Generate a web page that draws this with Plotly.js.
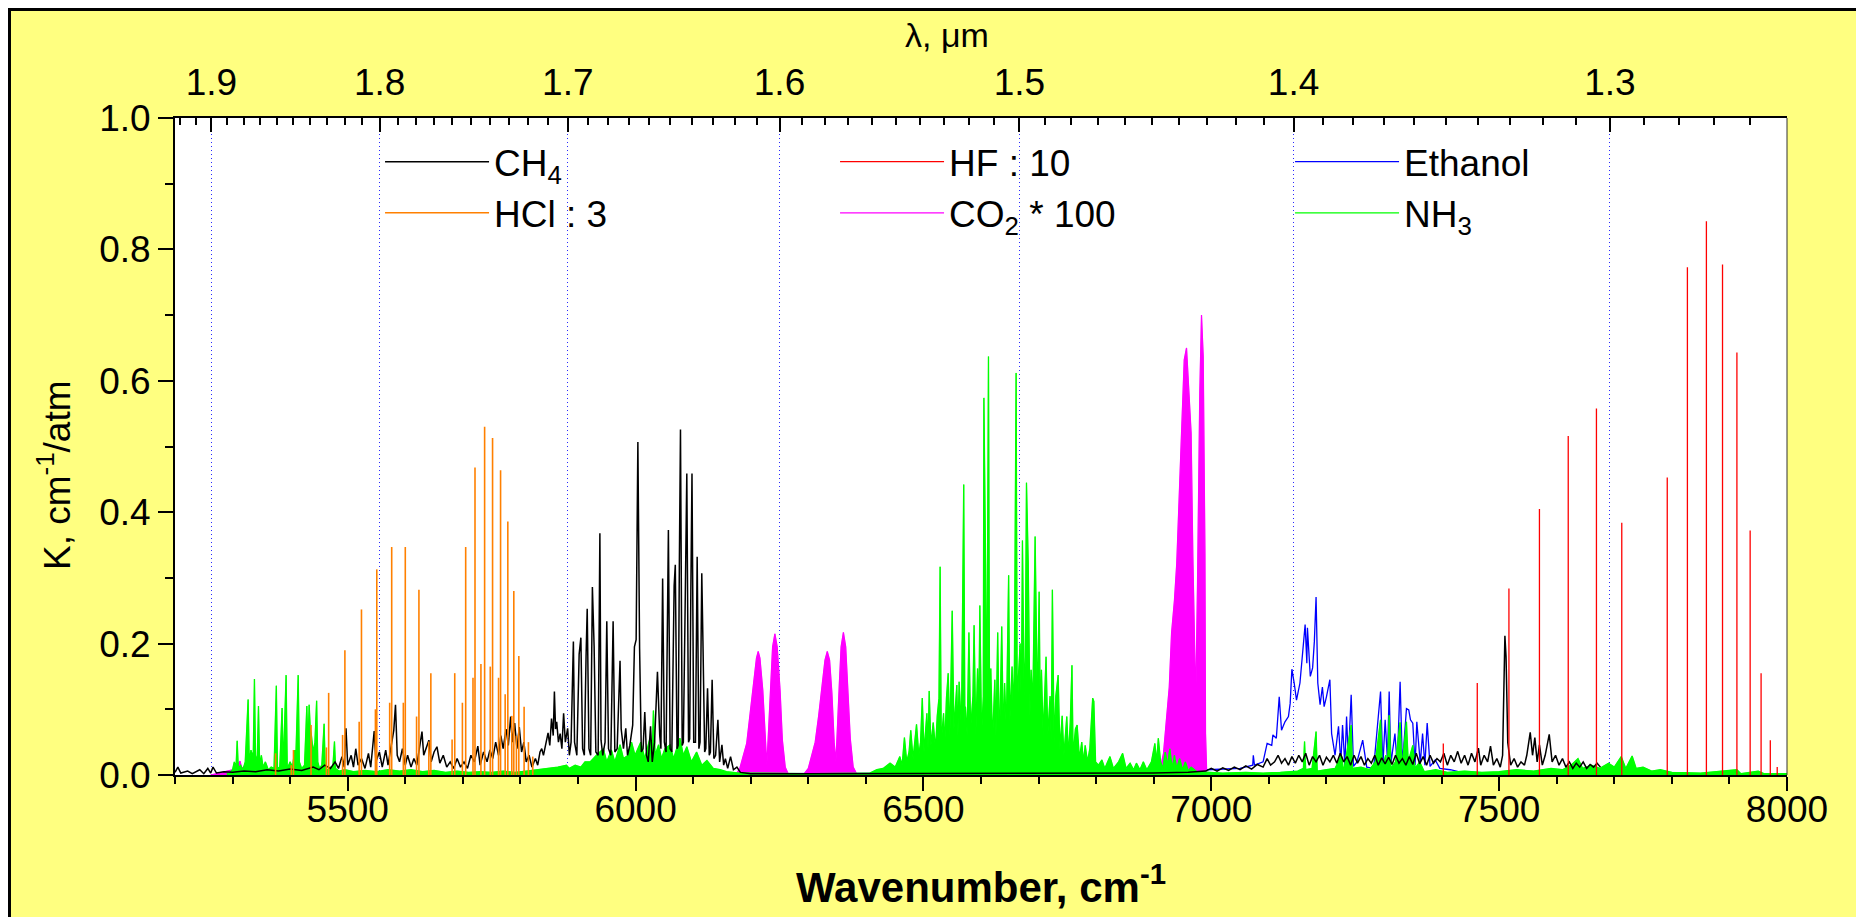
<!DOCTYPE html>
<html><head><meta charset="utf-8">
<script src="https://cdn.plot.ly/plotly-3.0.1.min.js"></script>
<style>
html,body{margin:0;padding:0;background:#fff;width:1856px;height:917px;overflow:hidden}
#frame{position:absolute;left:8px;top:8px;border-left:3px solid #000;border-top:3px solid #000;width:1845px;height:906px}
#chart{width:1845px;height:906px}
</style></head><body><div id="frame"><div id="chart"></div></div>
<script>
// ---- tick labels ----
const wavenumberRange = [5200, 8000];
const lambdaTicks = [1.9, 1.8, 1.7, 1.6, 1.5, 1.4, 1.3];
const lambdaMinorTicks = [1.92,1.91,1.89,1.88,1.87,1.86,1.85,1.84,1.83,1.82,1.81,1.79,1.78,1.77,1.76,1.75,1.74,1.73,1.72,1.71,1.69,1.68,1.67,1.66,1.65,1.64,1.63,1.62,1.61,1.59,1.58,1.57,1.56,1.55,1.54,1.53,1.52,1.51,1.49,1.48,1.47,1.46,1.45,1.44,1.43,1.42,1.41,1.39,1.38,1.37,1.36,1.35,1.34,1.33,1.32,1.31,1.29,1.28,1.27,1.26,1.25];

// ---- series: [wavenumber cm-1, K cm-1/atm] ----
const ch4 = [[5200,0.004],[5205,0.012],[5210,0.003],[5222,0.006],[5230,0.002],[5243,0.008],[5250,0.002],[5257,0.010],[5262,0.003],[5266,0.012],[5272,0.003],[5285,0.005],[5300,0.004],[5320,0.006],[5340,0.005],[5360,0.008],[5380,0.006],[5400,0.009],[5420,0.007],[5440,0.012],[5450,0.008],[5460,0.015],[5470,0.010],[5478,0.020],[5484,0.010],[5490,0.028],[5494,0.012],[5497,0.071],[5500,0.015],[5506,0.030],[5510,0.012],[5514,0.040],[5518,0.015],[5524,0.025],[5530,0.010],[5536,0.033],[5540,0.012],[5546,0.067],[5549,0.020],[5555,0.035],[5560,0.012],[5566,0.038],[5570,0.015],[5576,0.045],[5580,0.068],[5583,0.107],[5586,0.030],[5590,0.020],[5595,0.040],[5600,0.015],[5604,0.030],[5610,0.012],[5615,0.025],[5620,0.015],[5625,0.040],[5629,0.066],[5632,0.030],[5637,0.045],[5641,0.053],[5645,0.020],[5650,0.035],[5655,0.043],[5660,0.018],[5666,0.030],[5672,0.012],[5678,0.020],[5684,0.010],[5690,0.025],[5696,0.012],[5702,0.020],[5708,0.010],[5714,0.030],[5720,0.020],[5726,0.044],[5730,0.015],[5736,0.035],[5742,0.020],[5747,0.038],[5752,0.025],[5757,0.050],[5762,0.030],[5766,0.060],[5770,0.040],[5775,0.070],[5779,0.045],[5783,0.089],[5786,0.050],[5790,0.079],[5794,0.040],[5798,0.073],[5802,0.035],[5806,0.050],[5810,0.020],[5815,0.030],[5820,0.012],[5826,0.025],[5830,0.015],[5834,0.035],[5837,0.040],[5840,0.030],[5844,0.050],[5848,0.064],[5851,0.045],[5854,0.086],[5857,0.060],[5859,0.127],[5861,0.070],[5863,0.081],[5866,0.050],[5869,0.063],[5872,0.040],[5875,0.094],[5878,0.050],[5882,0.071],[5885,0.030],[5888,0.050],[5890,0.127],[5892,0.203],[5894,0.050],[5898,0.030],[5902,0.184],[5905,0.209],[5908,0.040],[5911,0.030],[5914,0.180],[5916,0.253],[5919,0.040],[5922,0.030],[5925,0.286],[5928,0.196],[5931,0.035],[5935,0.030],[5938,0.368],[5940,0.053],[5943,0.030],[5947,0.050],[5950,0.234],[5953,0.040],[5957,0.030],[5961,0.234],[5964,0.035],[5968,0.040],[5973,0.174],[5975,0.070],[5979,0.040],[5983,0.071],[5986,0.030],[5990,0.045],[5995,0.076],[5998,0.195],[6001,0.206],[6002,0.336],[6004,0.507],[6007,0.193],[6010,0.035],[6013,0.040],[6016,0.096],[6019,0.030],[6022,0.020],[6026,0.074],[6029,0.020],[6033,0.050],[6038,0.157],[6042,0.060],[6044,0.040],[6047,0.299],[6050,0.050],[6053,0.035],[6057,0.373],[6060,0.040],[6063,0.035],[6067,0.288],[6069,0.320],[6072,0.040],[6074,0.045],[6076,0.317],[6078,0.526],[6081,0.045],[6083,0.050],[6086,0.249],[6089,0.459],[6092,0.050],[6094,0.055],[6096,0.280],[6098,0.459],[6101,0.050],[6104,0.050],[6107,0.332],[6110,0.040],[6112,0.050],[6115,0.307],[6117,0.204],[6120,0.035],[6122,0.040],[6125,0.132],[6128,0.030],[6130,0.035],[6133,0.145],[6136,0.025],[6139,0.030],[6143,0.084],[6146,0.020],[6150,0.046],[6153,0.015],[6156,0.025],[6160,0.010],[6165,0.028],[6170,0.008],[6176,0.012],[6182,0.004],[6190,0.003],[6200,0.002],[6300,0.002],[6400,0.002],[6500,0.002],[6600,0.002],[6700,0.002],[6800,0.002],[6900,0.003],[6960,0.004],[6990,0.006],[7000,0.010],[7010,0.006],[7020,0.011],[7030,0.007],[7040,0.012],[7050,0.008],[7060,0.014],[7070,0.009],[7080,0.016],[7090,0.012],[7097,0.025],[7103,0.015],[7110,0.020],[7116,0.030],[7122,0.018],[7128,0.025],[7134,0.015],[7140,0.028],[7146,0.018],[7152,0.030],[7158,0.020],[7164,0.033],[7170,0.015],[7176,0.028],[7182,0.020],[7188,0.030],[7194,0.015],[7200,0.027],[7206,0.020],[7212,0.030],[7218,0.018],[7224,0.033],[7230,0.020],[7236,0.028],[7242,0.015],[7248,0.030],[7254,0.018],[7260,0.028],[7266,0.015],[7272,0.025],[7278,0.018],[7284,0.030],[7290,0.015],[7296,0.026],[7302,0.017],[7308,0.027],[7314,0.016],[7320,0.030],[7326,0.018],[7332,0.025],[7338,0.015],[7344,0.028],[7350,0.016],[7356,0.033],[7362,0.017],[7368,0.028],[7374,0.015],[7380,0.030],[7386,0.018],[7392,0.025],[7398,0.020],[7404,0.033],[7410,0.015],[7416,0.030],[7422,0.020],[7428,0.036],[7434,0.018],[7440,0.030],[7446,0.015],[7452,0.033],[7458,0.020],[7464,0.041],[7468,0.015],[7474,0.030],[7480,0.020],[7485,0.044],[7490,0.015],[7496,0.025],[7502,0.012],[7506,0.030],[7510,0.212],[7512,0.180],[7515,0.049],[7520,0.015],[7526,0.025],[7532,0.012],[7538,0.020],[7544,0.015],[7548,0.030],[7554,0.065],[7558,0.030],[7562,0.057],[7566,0.020],[7570,0.046],[7575,0.015],[7580,0.030],[7587,0.062],[7592,0.020],[7598,0.030],[7604,0.015],[7610,0.025],[7616,0.012],[7622,0.020],[7628,0.010],[7634,0.018],[7640,0.012],[7646,0.020],[7652,0.010],[7658,0.016],[7664,0.012],[7670,0.018],[7676,0.012]];

const hclLines = [[5374.7,0.033],[5402,0.015],[5405.8,0.038],[5436.3,0.076],[5463,0.042],[5466.9,0.125],[5491.1,0.061],[5495.1,0.190],[5519.9,0.081],[5523.9,0.252],[5548.1,0.100],[5550.5,0.313],[5572.9,0.110],[5576.4,0.347],[5596.6,0.110],[5600.0,0.347],[5619.6,0.089],[5623.7,0.282],[5640.9,0.051],[5644.4,0.155],[5681.3,0.054],[5685.9,0.155],[5699.2,0.110],[5704.9,0.347],[5717.6,0.148],[5721.1,0.468],[5731.4,0.169],[5737.8,0.530],[5747.6,0.165],[5751.6,0.513],[5762.0,0.148],[5765.5,0.464],[5773.5,0.123],[5778.1,0.386],[5785.0,0.090],[5788.5,0.280],[5793.0,0.060],[5797.2,0.181],[5806.4,0.104],[5813.9,0.050],[5821.4,0.028]];

const hfLines = [[7403,0.048],[7462,0.140],[7517,0.284],[7570,0.405],[7620,0.516],[7669,0.558],[7713,0.384],[7792,0.453],[7827,0.773],[7860,0.843],[7888,0.777],[7913,0.643],[7936,0.372],[7955,0.155],[7971,0.053],[7983,0.012]];

const co2Band5300 = [[5262,0],[5275,0.003],[5290,0.006],[5300,0.008],[5305,0.012],[5310,0.018],[5313,0.021],[5316,0.010],[5320,0.013],[5325,0.008],[5332,0.002],[5340,0]];
const co2Band6228 = [[6172,0],[6176,0.003],[6181,0.010],[6187,0.028],[6193,0.048],[6199,0.094],[6205,0.145],[6210,0.178],[6213,0.188],[6216,0.178],[6221,0.129],[6225,0.050],[6228,0.015],[6231,0.068],[6234,0.134],[6238,0.195],[6242,0.215],[6246,0.195],[6251,0.129],[6255,0.053],[6260,0.012],[6265,0.002],[6268,0]];
const co2Band6348 = [[6290,0],[6293,0.002],[6300,0.010],[6306,0.028],[6312,0.050],[6318,0.090],[6324,0.140],[6329,0.175],[6333,0.188],[6337,0.175],[6341,0.125],[6345,0.050],[6348,0.020],[6351,0.070],[6354,0.140],[6357,0.195],[6361,0.217],[6365,0.195],[6369,0.130],[6373,0.055],[6378,0.012],[6384,0.002],[6387,0]];
const co2Band6970 = [[6905,0],[6908,0.005],[6912,0.012],[6917,0.033],[6921,0.079],[6927,0.134],[6931,0.216],[6936,0.266],[6940,0.322],[6945,0.439],[6949,0.550],[6953,0.632],[6957,0.650],[6961,0.581],[6965,0.520],[6968,0.332],[6971,0.216],[6973,0.112],[6976,0.287],[6978,0.495],[6980,0.581],[6983,0.700],[6986,0.637],[6989,0.337],[6990,0.063],[6992,0.005],[6994,0]];

const ethanol = [[6150,0.002],[6500,0.002],[6900,0.003],[6992,0.008],[7050,0.010],[7072,0.015],[7073,0.030],[7075,0.015],[7090,0.020],[7097,0.048],[7105,0.045],[7107,0.061],[7113,0.056],[7118,0.119],[7122,0.068],[7128,0.081],[7134,0.089],[7137,0.109],[7140,0.161],[7144,0.140],[7148,0.114],[7154,0.140],[7160,0.193],[7163,0.229],[7166,0.170],[7167,0.224],[7172,0.150],[7176,0.163],[7179,0.203],[7182,0.271],[7185,0.140],[7189,0.107],[7193,0.134],[7196,0.104],[7200,0.119],[7206,0.145],[7209,0.063],[7215,0.030],[7221,0.074],[7225,0.018],[7228,0.076],[7232,0.015],[7235,0.089],[7238,0.023],[7243,0.122],[7247,0.013],[7253,0.020],[7263,0.053],[7270,0.012],[7282,0.010],[7294,0.127],[7298,0.013],[7302,0.084],[7306,0.023],[7309,0.127],[7312,0.018],[7319,0.063],[7323,0.015],[7328,0.142],[7332,0.015],[7339,0.101],[7343,0.099],[7346,0.084],[7350,0.079],[7354,0.015],[7357,0.081],[7363,0.018],[7367,0.063],[7371,0.015],[7375,0.079],[7380,0.013],[7389,0.023],[7397,0.010],[7415,0.008],[7440,0.003],[7500,0.002],[8000,0.002]];

const nh3 = [[5290,0.002],[5295,0.003],[5300,0.008],[5303,0.020],[5306,0.012],[5308,0.052],[5310,0.010],[5314,0.015],[5318,0.008],[5322,0.020],[5327,0.115],[5329,0.020],[5332,0.038],[5334,0.030],[5336,0.035],[5338,0.146],[5340,0.020],[5343,0.030],[5345,0.105],[5347,0.015],[5350,0.030],[5353,0.012],[5357,0.020],[5362,0.008],[5367,0.012],[5372,0.010],[5376,0.136],[5378,0.010],[5382,0.012],[5386,0.102],[5388,0.010],[5393,0.152],[5395,0.010],[5400,0.020],[5404,0.012],[5408,0.038],[5410,0.030],[5414,0.152],[5416,0.020],[5420,0.010],[5425,0.015],[5429,0.105],[5431,0.040],[5433,0.107],[5435,0.070],[5437,0.060],[5440,0.035],[5443,0.050],[5446,0.113],[5448,0.020],[5451,0.010],[5455,0.015],[5459,0.078],[5461,0.010],[5466,0.008],[5470,0.012],[5474,0.010],[5477,0.051],[5479,0.010],[5485,0.006],[5495,0.008],[5510,0.005],[5530,0.007],[5550,0.005],[5570,0.008],[5590,0.006],[5610,0.008],[5630,0.005],[5650,0.007],[5670,0.004],[5690,0.006],[5710,0.004],[5730,0.005],[5750,0.004],[5770,0.006],[5790,0.004],[5810,0.006],[5830,0.008],[5850,0.010],[5865,0.012],[5880,0.015],[5885,0.010],[5895,0.015],[5905,0.012],[5912,0.020],[5921,0.020],[5932,0.030],[5944,0.040],[5950,0.020],[5958,0.038],[5964,0.020],[5973,0.046],[5979,0.025],[5987,0.030],[5993,0.050],[5999,0.030],[6009,0.050],[6016,0.025],[6025,0.056],[6029,0.040],[6031,0.098],[6034,0.030],[6040,0.046],[6045,0.025],[6051,0.040],[6060,0.046],[6066,0.025],[6071,0.040],[6077,0.056],[6083,0.030],[6089,0.043],[6097,0.020],[6106,0.035],[6115,0.015],[6124,0.022],[6135,0.010],[6147,0.008],[6158,0.005],[6180,0.003],[6300,0.002],[6380,0.003],[6407,0.003],[6419,0.008],[6430,0.010],[6442,0.018],[6451,0.012],[6459,0.028],[6463,0.015],[6467,0.057],[6471,0.020],[6475,0.035],[6478,0.068],[6482,0.025],[6488,0.077],[6492,0.030],[6495,0.050],[6498,0.117],[6501,0.035],[6506,0.094],[6508,0.040],[6510,0.128],[6513,0.045],[6517,0.080],[6521,0.040],[6524,0.090],[6527,0.117],[6529,0.317],[6531,0.050],[6535,0.094],[6537,0.045],[6540,0.117],[6543,0.155],[6546,0.060],[6550,0.250],[6553,0.070],[6558,0.137],[6560,0.060],[6562,0.142],[6566,0.070],[6570,0.442],[6572,0.080],[6573,0.104],[6576,0.060],[6579,0.217],[6582,0.070],[6586,0.120],[6588,0.228],[6591,0.060],[6594,0.162],[6596,0.080],[6598,0.258],[6601,0.060],[6604,0.120],[6605,0.574],[6608,0.320],[6610,0.060],[6613,0.637],[6615,0.050],[6617,0.162],[6620,0.050],[6624,0.145],[6626,0.060],[6629,0.217],[6632,0.040],[6636,0.226],[6639,0.050],[6641,0.140],[6644,0.070],[6648,0.304],[6650,0.080],[6654,0.165],[6656,0.100],[6658,0.165],[6661,0.612],[6663,0.080],[6665,0.150],[6668,0.200],[6670,0.100],[6672,0.357],[6675,0.120],[6677,0.180],[6679,0.445],[6682,0.324],[6685,0.090],[6687,0.160],[6690,0.110],[6694,0.363],[6696,0.205],[6698,0.100],[6701,0.279],[6703,0.080],[6705,0.160],[6708,0.060],[6713,0.180],[6716,0.060],[6720,0.120],[6722,0.050],[6724,0.282],[6727,0.050],[6730,0.120],[6734,0.152],[6737,0.040],[6741,0.090],[6744,0.030],[6749,0.089],[6752,0.030],[6755,0.080],[6758,0.167],[6760,0.030],[6764,0.070],[6767,0.076],[6771,0.025],[6775,0.050],[6778,0.020],[6781,0.045],[6785,0.020],[6789,0.040],[6794,0.117],[6796,0.112],[6799,0.020],[6804,0.015],[6810,0.023],[6815,0.010],[6824,0.028],[6830,0.010],[6839,0.020],[6846,0.033],[6852,0.010],[6859,0.018],[6865,0.008],[6870,0.018],[6876,0.008],[6882,0.020],[6888,0.008],[6896,0.020],[6902,0.048],[6905,0.020],[6908,0.056],[6912,0.020],[6916,0.010],[6920,0.035],[6924,0.015],[6928,0.040],[6932,0.010],[6936,0.030],[6940,0.010],[6945,0.025],[6950,0.008],[6955,0.020],[6960,0.006],[6965,0.012],[6975,0.005],[6990,0.004],[7020,0.003],[7060,0.004],[7090,0.003],[7120,0.004],[7150,0.006],[7160,0.010],[7162,0.051],[7164,0.008],[7175,0.010],[7182,0.066],[7184,0.006],[7200,0.008],[7215,0.010],[7226,0.030],[7230,0.005],[7243,0.076],[7245,0.010],[7260,0.012],[7275,0.008],[7285,0.020],[7294,0.084],[7297,0.010],[7303,0.030],[7306,0.010],[7309,0.091],[7312,0.010],[7320,0.020],[7328,0.080],[7331,0.010],[7339,0.081],[7342,0.020],[7350,0.045],[7354,0.010],[7362,0.020],[7370,0.005],[7390,0.008],[7410,0.004],[7440,0.006],[7470,0.004],[7500,0.005],[7530,0.008],[7560,0.006],[7590,0.010],[7610,0.008],[7625,0.015],[7637,0.025],[7645,0.010],[7660,0.015],[7675,0.010],[7690,0.018],[7700,0.012],[7712,0.028],[7720,0.010],[7731,0.029],[7738,0.010],[7750,0.012],[7765,0.006],[7780,0.008],[7800,0.004],[7850,0.003],[7913,0.008],[7920,0.002],[7950,0.006],[7960,0.002],[8000,0.002]];

// ---- helpers (build library inputs from the arrays) ----
const xs = a => a.map(p => p[0]);
const ys = a => a.map(p => p[1]);
function sticks(a) {
  const x = [], y = [];
  a.forEach(p => { x.push(p[0], p[0], null); y.push(0, p[1], null); });
  return {x, y};
}
function joinBands(bands) {
  const x = [], y = [];
  bands.forEach((b, i) => { if (i) { x.push(null); y.push(null); } b.forEach(p => { x.push(p[0]); y.push(p[1]); }); });
  return {x, y};
}
const co2 = joinBands([co2Band5300, co2Band6228, co2Band6348, co2Band6970]);
const hcl = sticks(hclLines);
const hf = sticks(hfLines);

const FONT = 'Arial, "Liberation Sans", sans-serif';

const traces = [
  {x: xs(ethanol), y: ys(ethanol), mode: 'lines', name: 'Ethanol', legendrank: 3,
   line: {color: '#0000ff', width: 1.3}},
  {x: co2.x, y: co2.y, mode: 'lines', fill: 'tozeroy', fillcolor: '#ff00ff', showlegend: false,
   legendgroup: 'co2', line: {color: '#ff00ff', width: 0.5}, connectgaps: false, hoverinfo: 'skip'},
  {x: co2.x, y: co2.y, mode: 'lines', name: 'CO<sub>2</sub> * 100', legendgroup: 'co2', legendrank: 5,
   line: {color: '#ff00ff', width: 1.2}, connectgaps: false},
  {x: xs(nh3), y: ys(nh3), mode: 'lines', fill: 'tozeroy', fillcolor: '#00ff00', showlegend: false,
   legendgroup: 'nh3', line: {color: '#00ff00', width: 0.5}, hoverinfo: 'skip'},
  {x: xs(nh3), y: ys(nh3), mode: 'lines', name: 'NH<sub>3</sub>', legendgroup: 'nh3', legendrank: 6,
   line: {color: '#00ff00', width: 1.3}},
  {x: xs(ch4), y: ys(ch4), mode: 'lines', name: 'CH<sub>4</sub>', legendrank: 1,
   line: {color: '#000000', width: 1.5}},
  {x: hcl.x, y: hcl.y, mode: 'lines', name: 'HCl : 3', legendrank: 4,
   line: {color: '#ff8000', width: 1.6}, connectgaps: false},
  // same wavenumber scale; plotted on the overlaid top axis so the λ axis is drawn
  {x: hf.x, y: hf.y, xaxis: 'x2', yaxis: 'y', mode: 'lines', name: 'HF : 10', legendrank: 2,
   line: {color: '#ff0000', width: 1.3}, connectgaps: false}
];

const layout = {
  width: 1845, height: 906,
  margin: {l: 164, r: 69, t: 107, b: 142},
  paper_bgcolor: '#ffff80', plot_bgcolor: '#ffffff',
  font: {family: FONT, size: 37, color: '#000'},
  showlegend: true,
  legend: {orientation: 'h', x: 0.1272, xanchor: 'left', y: 0.98, yanchor: 'top',
           bgcolor: 'rgba(0,0,0,0)', borderwidth: 0, entrywidth: 336, entrywidthmode: 'pixels',
           itemwidth: 104, font: {family: FONT, size: 37, color: '#000'}, traceorder: 'normal'},
  xaxis: {range: wavenumberRange, tickmode: 'linear', tick0: 5000, dtick: 500,
          ticks: 'outside', ticklen: 14, tickwidth: 2, tickcolor: '#000',
          minor: {tickmode: 'linear', tick0: 5000, dtick: 100, ticks: 'outside', ticklen: 7, tickwidth: 2, tickcolor: '#000', showgrid: false},
          showline: true, linewidth: 2, linecolor: '#000', showgrid: false, zeroline: false,
          ticklabelstandoff: -13, tickfont: {size: 37},
          title: {text: 'Wavenumber, cm<sup>-1</sup>', font: {size: 42, weight: 'bold'}, standoff: 43}},
  xaxis2: {overlaying: 'x', anchor: 'y', side: 'top', range: wavenumberRange,
           tickmode: 'array', tickvals: lambdaTicks.map(l => 1e4 / l), ticktext: lambdaTicks.map(l => l.toFixed(1)),
           ticks: 'inside', ticklen: 14, tickwidth: 2, tickcolor: '#000',
           minor: {tickmode: 'array', tickvals: lambdaMinorTicks.map(l => 1e4 / l), ticks: 'inside', ticklen: 7, tickwidth: 2, tickcolor: '#000', showgrid: false},
           showline: true, linewidth: 2, linecolor: '#000',
           showgrid: true, gridcolor: '#2a2aff', gridwidth: 1, griddash: '1px,3px', zeroline: false,
           ticklabelstandoff: 6, tickfont: {size: 37}},
  yaxis: {range: [0, 1], tickmode: 'linear', tick0: 0, dtick: 0.2, tickformat: '.1f',
          ticks: 'outside', ticklen: 15, tickwidth: 2, tickcolor: '#000',
          minor: {tickmode: 'linear', tick0: 0, dtick: 0.1, ticks: 'outside', ticklen: 8, tickwidth: 2, tickcolor: '#000', showgrid: false},
          showline: true, linewidth: 2, linecolor: '#000', showgrid: false, zeroline: false,
          ticklabelstandoff: 0, tickfont: {size: 37}},
  shapes: [{type: 'line', xref: 'paper', yref: 'paper', x0: 1, x1: 1, y0: 0, y1: 1,
            line: {color: '#333', width: 1}}],
  annotations: [
    {text: 'λ, μm', xref: 'paper', yref: 'paper', x: (947 - 175) / 1612, y: (775 - 35) / 657,
     xanchor: 'center', yanchor: 'middle', showarrow: false, font: {family: FONT, size: 34, color: '#000'}},
    {text: 'K, cm<sup>-1</sup>/atm', xref: 'paper', yref: 'paper', x: (54 - 175) / 1612, y: (775 - 475) / 657,
     xanchor: 'center', yanchor: 'middle', textangle: -90, showarrow: false, font: {family: FONT, size: 37, color: '#000'}}
  ]
};

Plotly.newPlot('chart', traces, layout, {displayModeBar: false, staticPlot: true});
</script></body></html>
